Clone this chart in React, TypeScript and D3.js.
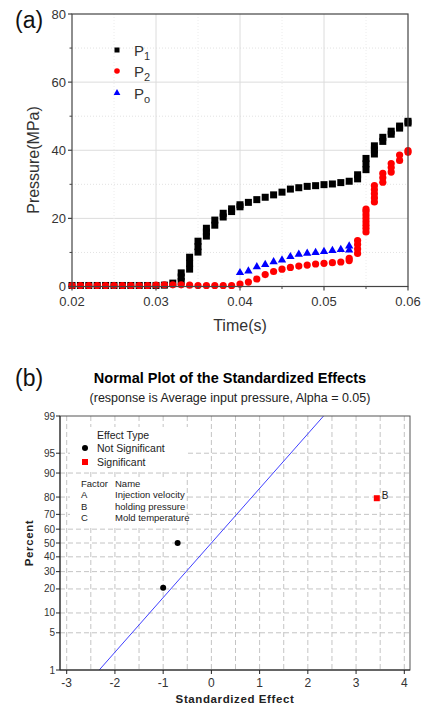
import React from "react";
import * as d3 from "d3";

// ---------- Panel (a) data ----------
const p1Points: [number, number][] = [
  [0.020, 0.3], [0.021, 0.3], [0.022, 0.3], [0.023, 0.3], [0.024, 0.3], [0.025, 0.3],
  [0.026, 0.3], [0.027, 0.3], [0.028, 0.3], [0.029, 0.3], [0.030, 0.3], [0.031, 0.4],
  [0.032, 1.0],
  [0.033, 1.5], [0.033, 2.8], [0.033, 4.0],
  [0.034, 5.1], [0.034, 6.8], [0.034, 8.6],
  [0.035, 10.1], [0.035, 11.7], [0.035, 13.3],
  [0.036, 14.8], [0.036, 16.0], [0.036, 17.1],
  [0.037, 18.0], [0.037, 19.5],
  [0.038, 20.4], [0.038, 21.5],
  [0.039, 22.0], [0.039, 22.8],
  [0.040, 23.4], [0.040, 24.0],
  [0.041, 24.7], [0.042, 25.5], [0.043, 26.2], [0.044, 26.9], [0.045, 27.7],
  [0.046, 28.6], [0.047, 29.0], [0.048, 29.4], [0.049, 29.6], [0.050, 29.9],
  [0.051, 30.1], [0.052, 30.5], [0.053, 30.9],
  [0.054, 31.6], [0.054, 32.8],
  [0.055, 34.3], [0.055, 36.0], [0.055, 37.6],
  [0.056, 38.9], [0.056, 40.1], [0.056, 41.3],
  [0.057, 42.6], [0.057, 43.8],
  [0.058, 44.7], [0.058, 45.6],
  [0.059, 46.5], [0.059, 47.1],
  [0.060, 48.0], [0.060, 48.5],
];

const p2Points: [number, number][] = [
  [0.020, 0.3], [0.021, 0.3], [0.022, 0.3], [0.023, 0.3], [0.024, 0.3], [0.025, 0.3],
  [0.026, 0.3], [0.027, 0.3], [0.028, 0.3], [0.029, 0.3], [0.030, 0.4], [0.031, 0.5],
  [0.032, 0.5], [0.033, 0.5], [0.034, 0.4], [0.035, 0.3], [0.036, 0.3], [0.037, 0.3],
  [0.038, 0.3], [0.039, 0.3], [0.040, 0.7], [0.041, 1.3], [0.042, 2.2], [0.043, 3.5],
  [0.044, 4.4], [0.045, 5.1], [0.046, 5.6], [0.047, 6.0], [0.048, 6.3], [0.049, 6.6],
  [0.050, 6.8], [0.051, 7.0], [0.052, 7.2],
  [0.053, 7.6], [0.053, 8.3],
  [0.054, 9.7], [0.054, 11.0], [0.054, 12.3], [0.054, 13.5],
  [0.055, 16.0], [0.055, 17.0], [0.055, 18.0], [0.055, 19.0], [0.055, 20.0],
  [0.055, 21.0], [0.055, 22.0], [0.055, 22.7],
  [0.056, 24.8], [0.056, 26.0], [0.056, 27.2], [0.056, 28.4], [0.056, 29.6],
  [0.057, 30.6], [0.057, 31.9], [0.057, 33.2],
  [0.058, 33.6], [0.058, 34.9], [0.058, 36.1],
  [0.059, 37.0], [0.059, 38.6],
  [0.060, 39.4], [0.060, 39.9],
];

const poPoints: [number, number][] = [
  [0.040, 4.2], [0.041, 4.7], [0.042, 5.9], [0.043, 6.6], [0.044, 7.4], [0.045, 7.9],
  [0.046, 8.9], [0.047, 9.6], [0.048, 9.9], [0.049, 10.1], [0.050, 10.4], [0.051, 10.7],
  [0.052, 11.0], [0.053, 10.8], [0.053, 12.0],
];

const aXTicks = [0.02, 0.03, 0.04, 0.05, 0.06];
const aXMinor = [0.025, 0.035, 0.045, 0.055];
const aYTicks = [0, 20, 40, 60, 80];
const aYMinor = [10, 30, 50, 70];

// ---------- Panel (b) data ----------
const effectNames = ["A", "B", "C"];
const effectValues = [-1.0, 3.43, -0.7];
const effectPercents = [20.6, 79.4, 50.0];
const effectSignificant = [false, true, false];
const fitLineEffect = [-2.326, 2.326];
const fitLinePercent = [1, 99];
const bPercentTicks = [1, 5, 10, 20, 30, 40, 50, 60, 70, 80, 90, 95, 99];
const bXTicks = [-3, -2, -1, 0, 1, 2, 3, 4];
const bXGrid = d3.range(-3, 4.01, 0.5);
const factorRows = [
  ["A", "Injection velocity"],
  ["B", "holding pressure"],
  ["C", "Mold temperature"],
];

// inverse standard normal CDF (Acklam)
function normInv(p: number): number {
  const a = [-3.969683028665376e1, 2.209460984245205e2, -2.759285104469687e2, 1.38357751867269e2, -3.066479806614716e1, 2.506628277459239];
  const b = [-5.447609879822406e1, 1.615858368580409e2, -1.556989798598866e2, 6.680131188771972e1, -1.328068155288572e1];
  const c = [-7.784894002430293e-3, -3.223964580411365e-1, -2.400758277161838, -2.549732539343734, 4.374664141464968, 2.938163982698783];
  const d = [7.784695709041462e-3, 3.224671290700398e-1, 2.445134137142996, 3.754408661907416];
  const pl = 0.02425;
  let q: number, r: number;
  if (p < pl) {
    q = Math.sqrt(-2 * Math.log(p));
    return (((((c[0] * q + c[1]) * q + c[2]) * q + c[3]) * q + c[4]) * q + c[5]) / ((((d[0] * q + d[1]) * q + d[2]) * q + d[3]) * q + 1);
  } else if (p <= 1 - pl) {
    q = p - 0.5;
    r = q * q;
    return ((((((a[0] * r + a[1]) * r + a[2]) * r + a[3]) * r + a[4]) * r + a[5]) * q) / (((((b[0] * r + b[1]) * r + b[2]) * r + b[3]) * r + b[4]) * r + 1);
  } else {
    q = Math.sqrt(-2 * Math.log(1 - p));
    return -(((((c[0] * q + c[1]) * q + c[2]) * q + c[3]) * q + c[4]) * q + c[5]) / ((((d[0] * q + d[1]) * q + d[2]) * q + d[3]) * q + 1);
  }
}

const FONT = "'Liberation Sans', Arial, sans-serif";

function PanelA() {
  const L = 72, R = 408, T = 14, B = 286.5;
  const x = d3.scaleLinear().domain([0.02, 0.06]).range([L, R]);
  const y = d3.scaleLinear().domain([0, 80]).range([B, T]);
  const tri = d3.symbol().type(d3.symbolTriangle).size(30)();
  const triLeg = d3.symbol().type(d3.symbolTriangle).size(20)();
  const axisCol = "#444";
  return (
    <g fontFamily={FONT}>
      <text x={15} y={28} fontSize={23} fill="#111">(a)</text>
      {/* grid */}
      {aYMinor.map((v) => (
        <line key={"ym" + v} x1={L} x2={R} y1={y(v)} y2={y(v)} stroke="#e2e2e2" strokeWidth={1} strokeDasharray="1,2" />
      ))}
      {aYTicks.slice(1, -1).map((v) => (
        <line key={"yg" + v} x1={L} x2={R} y1={y(v)} y2={y(v)} stroke="#dcdcdc" strokeWidth={1} />
      ))}
      {aXTicks.slice(1, -1).map((v) => (
        <line key={"xg" + v} x1={x(v)} x2={x(v)} y1={T} y2={B} stroke="#dcdcdc" strokeWidth={1} />
      ))}
      {aXMinor.map((v) => (
        <line key={"xm" + v} x1={x(v)} x2={x(v)} y1={T} y2={B} stroke="#ececec" strokeWidth={1} strokeDasharray="1,2" />
      ))}
      {/* data */}
      {p1Points.map(([t, v], i) => (
        <rect key={"p1" + i} x={x(t) - 3.5} y={y(v) - 3.5} width={7} height={7} fill="#000" />
      ))}
      {p2Points.map(([t, v], i) => (
        <circle key={"p2" + i} cx={x(t)} cy={y(v)} r={3.6} fill="#ff0000" />
      ))}
      {poPoints.map(([t, v], i) => (
        <path key={"po" + i} d={tri as string} transform={`translate(${x(t)},${y(v) + 0.5})`} fill="#0000ff" />
      ))}
      {/* frame */}
      <rect x={L} y={T} width={R - L} height={B - T} fill="none" stroke={axisCol} strokeWidth={1.2} />
      {/* ticks */}
      {aYTicks.map((v) => (
        <g key={"yt" + v}>
          <line x1={L - 4} x2={L} y1={y(v)} y2={y(v)} stroke={axisCol} strokeWidth={1.2} />
          <text x={L - 6} y={y(v) + 4.5} fontSize={13} textAnchor="end" fill="#333">{v}</text>
        </g>
      ))}
      {aYMinor.map((v) => (
        <line key={"ymt" + v} x1={L - 2.5} x2={L} y1={y(v)} y2={y(v)} stroke={axisCol} strokeWidth={1} />
      ))}
      {aXTicks.map((v) => (
        <g key={"xt" + v}>
          <line x1={x(v)} x2={x(v)} y1={B} y2={B + 4} stroke={axisCol} strokeWidth={1.2} />
          <text x={x(v)} y={B + 19} fontSize={13} textAnchor="middle" fill="#333">{d3.format(".2f")(v)}</text>
        </g>
      ))}
      {aXMinor.map((v) => (
        <line key={"xmt" + v} x1={x(v)} x2={x(v)} y1={B} y2={B + 2.5} stroke={axisCol} strokeWidth={1} />
      ))}
      <text x={(L + R) / 2} y={331} fontSize={16} textAnchor="middle" fill="#333">Time(s)</text>
      <text transform={`translate(39,160) rotate(-90)`} fontSize={16} textAnchor="middle" fill="#333">Pressure(MPa)</text>
      {/* legend */}
      <rect x={114.5} y={47.5} width={5} height={5} fill="#000" />
      <text x={134} y={56} fontSize={15} fill="#333">P<tspan fontSize={11} dy={4}>1</tspan></text>
      <circle cx={117} cy={71} r={2.8} fill="#ff0000" />
      <text x={134} y={77} fontSize={15} fill="#333">P<tspan fontSize={11} dy={4}>2</tspan></text>
      <path d={triLeg as string} transform={`translate(117,93)`} fill="#0000ff" />
      <text x={134} y={99} fontSize={15} fill="#333">P<tspan fontSize={11} dy={4}>o</tspan></text>
    </g>
  );
}

function PanelB() {
  const L = 60, R = 410, T = 416, B = 670;
  const x = d3.scaleLinear().domain([-3, 4]).range([66.7, 404.3]);
  const zTop = normInv(0.99);
  const yz = d3.scaleLinear().domain([-zTop, zTop]).range([B, T]);
  const y = (p: number) => yz(normInv(p / 100));
  const gridCol = "#c4c4c4";
  const lineGen = d3.line<number>().x((_, i) => x(fitLineEffect[i])).y((p) => y(p));
  return (
    <g fontFamily={FONT}>
      <text x={15} y={386} fontSize={23} fill="#111">(b)</text>
      <text x={230} y={383} fontSize={14.5} fontWeight="bold" textAnchor="middle" fill="#000">Normal Plot of the Standardized Effects</text>
      <text x={230} y={401.5} fontSize={12.5} textAnchor="middle" fill="#222">(response is Average input pressure, Alpha = 0.05)</text>
      {/* grid */}
      {bPercentTicks.slice(1, -1).map((p) => (
        <line key={"hg" + p} x1={L} x2={R} y1={y(p)} y2={y(p)} stroke={gridCol} strokeDasharray="5,3" />
      ))}
      {bXGrid.map((v) => (
        <line key={"vg" + v} x1={x(v)} x2={x(v)} y1={T} y2={B} stroke={gridCol} strokeDasharray="5,3" />
      ))}
      {/* legend backgrounds */}
      <rect x={70} y={427} width={118} height={43} fill="#fff" />
      <rect x={70} y={477} width={116} height={48} fill="#fff" />
      {/* fit line */}
      <path d={lineGen(fitLinePercent) as string} stroke="#4040ff" strokeWidth={1} fill="none" />
      {/* points */}
      {effectValues.map((e, i) =>
        effectSignificant[i] ? (
          <g key={"pt" + i}>
            <rect x={x(e) - 3} y={y(effectPercents[i]) - 3} width={6} height={6} fill="#ff0000" />
            <text x={x(e) + 5} y={y(effectPercents[i]) + 1} fontSize={10} fill="#222">{effectNames[i]}</text>
          </g>
        ) : (
          <circle key={"pt" + i} cx={x(e)} cy={y(effectPercents[i])} r={3} fill="#000" />
        )
      )}
      {/* frame */}
      <rect x={L} y={T} width={R - L} height={B - T} fill="none" stroke="#555" strokeWidth={1} />
      <line x1={L} x2={L} y1={T} y2={B} stroke="#222" />
      <line x1={L} x2={R} y1={B} y2={B} stroke="#222" />
      {/* y ticks */}
      {bPercentTicks.map((p) => (
        <g key={"yt" + p}>
          <line x1={L - 4} x2={L} y1={y(p)} y2={y(p)} stroke="#222" />
          <text x={L - 5} y={y(p) + 3.5} fontSize={10} textAnchor="end" fill="#333">{p}</text>
        </g>
      ))}
      {/* x ticks */}
      {bXTicks.map((v) => (
        <g key={"xt" + v}>
          <line x1={x(v)} x2={x(v)} y1={B} y2={B + 4} stroke="#222" />
          <text x={x(v)} y={B + 17} fontSize={12} textAnchor="middle" fill="#333">{v}</text>
        </g>
      ))}
      <text x={235} y={703} fontSize={11.5} fontWeight="bold" textAnchor="middle" fill="#222" letterSpacing={0.6}>Standardized Effect</text>
      <text transform={`translate(33,543) rotate(-90)`} fontSize={11.5} fontWeight="bold" textAnchor="middle" fill="#222" letterSpacing={0.6}>Percent</text>
      {/* legend */}
      <text x={97} y={439} fontSize={10.5} fill="#222">Effect Type</text>
      <circle cx={85} cy={448} r={3} fill="#000" />
      <text x={97} y={452} fontSize={10.5} fill="#222">Not Significant</text>
      <rect x={82} y={459} width={6} height={6} fill="#ff0000" />
      <text x={97} y={466} fontSize={10.5} fill="#222">Significant</text>
      <text x={81} y={487} fontSize={9.5} fill="#222">Factor</text>
      <text x={115} y={487} fontSize={9.5} fill="#222">Name</text>
      {factorRows.map((r, i) => (
        <g key={"fr" + i}>
          <text x={81} y={498 + i * 11.5} fontSize={9.5} fill="#222">{r[0]}</text>
          <text x={115} y={498 + i * 11.5} fontSize={9.5} fill="#222">{r[1]}</text>
        </g>
      ))}
    </g>
  );
}

export default function App() {
  return (
    <svg width={425} height={709} style={{ position: "absolute", left: 0, top: 0, background: "#fff" }}>
      <rect width={425} height={709} fill="#fff" />
      <PanelA />
      <PanelB />
    </svg>
  );
}
